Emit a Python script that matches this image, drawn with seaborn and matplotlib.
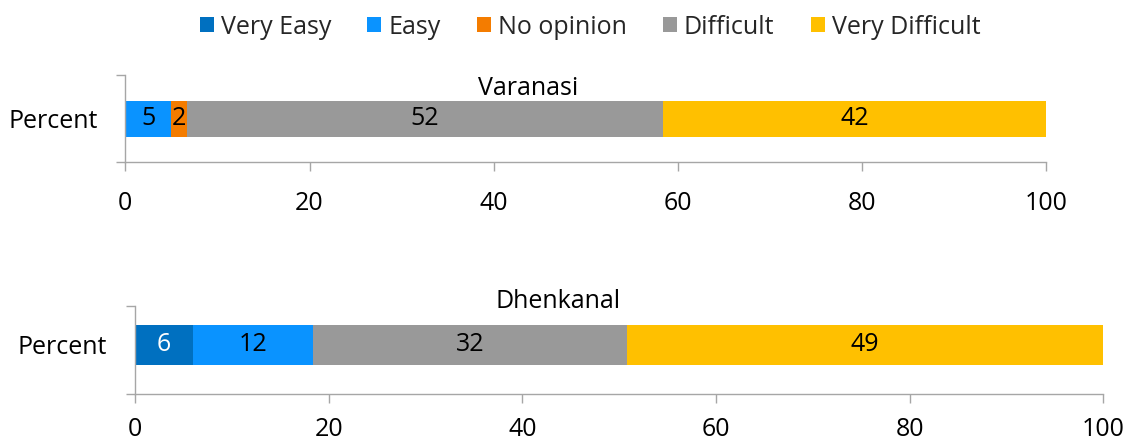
import matplotlib
matplotlib.use("Agg")
import matplotlib.pyplot as plt
from matplotlib.patches import Patch
import seaborn as sns
import numpy as np
import pandas as pd

# ---- data ----
categories = ["Very Easy", "Easy", "No opinion", "Difficult", "Very Difficult"]
colors = ["#0070C0", "#0A93FF", "#F47C00", "#999999", "#FFC000"]
label_colors = ["white", "black", "black", "black", "black"]
varanasi = [0.0, 5.0, 1.7, 51.7, 41.6]
dhenkanal = [6.0, 12.4, 0.0, 32.4, 49.2]
panel_titles = ["Varanasi", "Dhenkanal"]
row_label = "Percent"
xticks = [0, 20, 40, 60, 80, 100]

sns.set_theme(style="white")
plt.rcParams["font.family"] = ["Open Sans", "DejaVu Sans"]
FS = 18
AXC = "#A6A6A6"

fig = plt.figure(figsize=(11.26, 4.43), dpi=100)

W, H = 1126, 443
def fx(px):
    return px / W
def fy(py):
    return 1 - py / H

panels = [
    dict(vals=varanasi, rect=[fx(125.3), fy(162.3), fx(1046.3 - 125.3), 87.3 / H],
         width=0.412, ylim=(0.5, -0.5), title_xy=(fx(528), fy(95)), xpad=14),
    dict(vals=dhenkanal, rect=[fx(135), fy(394), fx(1103.3 - 135), 88.3 / H],
         width=0.453, ylim=(0.555, -0.445), title_xy=(fx(558), fy(308.5)), xpad=10),
]

for p, title in zip(panels, panel_titles):
    ax = fig.add_axes(p["rect"])
    vals = np.array(p["vals"])
    ends = np.cumsum(vals)
    starts = ends - vals
    df = pd.DataFrame({"cat": categories, "end": ends, "start": starts,
                       "val": vals, "row": row_label})
    # draw stacked segments as overlaid cumulative bars (largest end first)
    for i in reversed(range(len(categories))):
        sns.barplot(data=df.iloc[[i]], x="end", y="row", color=colors[i],
                    orient="h", width=p["width"], saturation=1, linewidth=0,
                    ax=ax)
    for i in range(len(categories)):
        if vals[i] > 0:
            ax.text(starts[i] + vals[i] / 2, 0, f"{vals[i]:.0f}", ha="center",
                    va="center", fontsize=FS, color=label_colors[i])
    ax.set_xlim(0, 100)
    ax.set_ylim(*p["ylim"])
    ax.set_xticks(xticks)
    ax.set_xticklabels([str(t) for t in xticks], fontsize=FS, color="black")
    ax.set_yticks(list(p["ylim"]))
    ax.set_yticklabels(["", ""])
    ax.set_yticks([0], minor=True)
    ax.set_yticklabels([row_label], minor=True, fontsize=FS, color="black")
    ax.tick_params(axis="x", which="major", length=6.5, width=1, color=AXC,
                   direction="out", pad=p["xpad"], bottom=True)
    ax.tick_params(axis="y", which="major", length=6.5, width=1, color=AXC,
                   direction="out", left=True)
    ax.tick_params(axis="y", which="minor", length=0, pad=20, left=True)
    ax.set_xlabel("")
    ax.set_ylabel("")
    for s in ["top", "right"]:
        ax.spines[s].set_visible(False)
    for s in ["left", "bottom"]:
        ax.spines[s].set_color(AXC)
        ax.spines[s].set_linewidth(1)
    ax.set_facecolor("none")
    fig.text(p["title_xy"][0], p["title_xy"][1], title, ha="center",
             va="baseline", fontsize=FS, color="black")

handles = [Patch(facecolor=c, edgecolor="none") for c in colors]
fig.legend(handles, categories, loc="center", ncol=5, frameon=False,
           bbox_to_anchor=(fx(590), fy(27)), fontsize=FS, handlelength=0.56,
           handleheight=0.56, handletextpad=0.28, columnspacing=1.45)

fig.savefig("out.png", dpi=100)
